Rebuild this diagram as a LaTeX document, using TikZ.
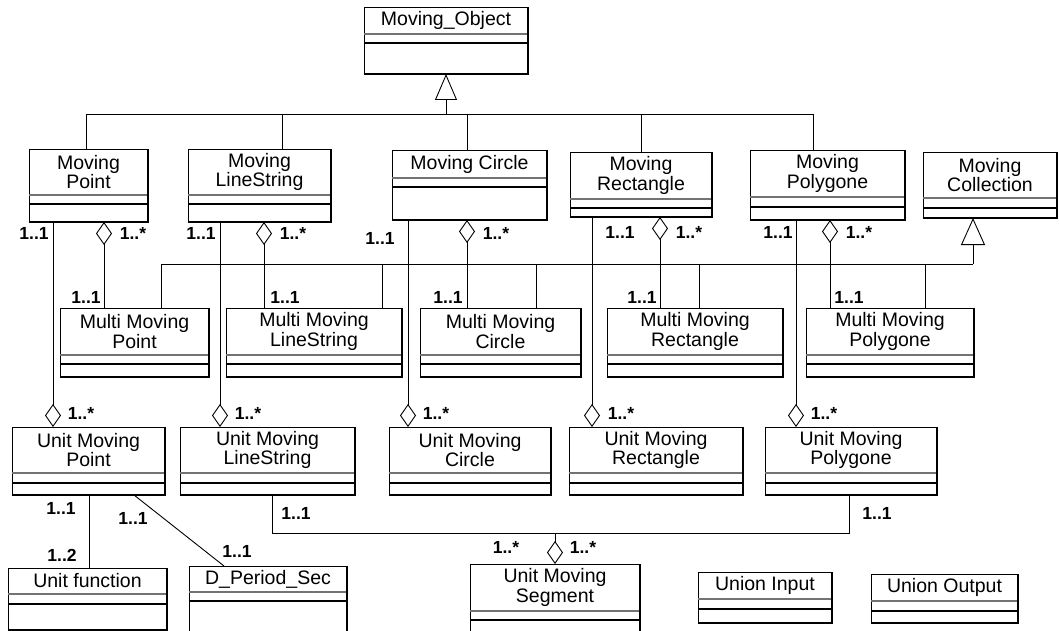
\documentclass[tikz,border=0pt]{standalone}
\usepackage{fontspec}
\setmainfont{Liberation Sans}
\usetikzlibrary{arrows.meta}
\newcommand\umlcls[8]{%
  \node[clsbox, minimum width={#4pt-#2pt}, minimum height={#5pt-#3pt}] (#1) at ({(#2+#4)/2},{(#3+#5)/2}) {};
  \node[clsname] (#1-n) at ({(#2+#4)/2},{(#3+#6)/2}) {#8};
  \draw[sepgray] (#2,#6) -- (#4,#6);
  \draw[sepdark] (#2,#7) -- (#4,#7);
  \draw[edgedark] (#1.north east) -- (#1.south east) -- (#1.south west);
}
\begin{document}
\begin{tikzpicture}[x=1pt,y=-1pt,
  clsbox/.style={draw, line width=0.9pt, rectangle, inner sep=0pt, outer sep=0pt, fill=white},
  clsname/.style={inner sep=0pt, align=center, font=\fontsize{19.5}{19.5}\selectfont},
  sepgray/.style={draw=black!55, line width=1.2pt},
  sepdark/.style={draw=black, line width=1.2pt},
  edgedark/.style={draw=black, line width=1.8pt},
  conn/.style={draw, line width=0.9pt},
  agg/.style={conn, {Diamond[open,length=23pt,width=16pt]}-},
  aggend/.style={conn, -{Diamond[open,length=23pt,width=16pt]}},
  gen/.style={conn, -{Triangle[open,length=26pt,width=22pt]}},
  mult/.style={inner sep=0pt, font=\bfseries\fontsize{17.5}{18}\selectfont}]
\useasboundingbox (0,0) rectangle (1059,631);
\clip (0,0) rectangle (1059,631);

% ---------- classes ----------
\umlcls{MO}{364}{7}{528}{74}{34}{43}{Moving\_Object}
\umlcls{MP}{29}{149}{148}{222}{195}{204}{Moving\\Point}
\umlcls{ML}{188}{149}{331}{222}{195}{204}{Moving\\LineString}
\umlcls{MC}{392}{150}{547}{220}{178}{187}{Moving Circle}
\umlcls{MR}{570}{152}{712}{217}{199}{208}{Moving\\Rectangle}
\umlcls{MPg}{750}{150}{905}{220}{197}{207}{Moving\\Polygone}
\umlcls{MCol}{923}{152}{1057}{218}{198}{208}{Moving\\Collection}

\umlcls{MMP}{60}{308}{209}{377}{355}{364}{Multi Moving\\Point}
\umlcls{MML}{226}{308}{402}{377}{355}{364}{Multi Moving\\LineString}
\umlcls{MMC}{420}{308}{581}{377}{355}{364}{Multi Moving\\Circle}
\umlcls{MMR}{607}{308}{783}{377}{355}{364}{Multi Moving\\Rectangle}
\umlcls{MMPg}{806}{308}{974}{377}{355}{364}{Multi Moving\\Polygone}

\umlcls{UMP}{12}{427}{165}{495}{473}{483}{Unit Moving\\Point}
\umlcls{UML}{180}{427}{355}{495}{473}{483}{Unit Moving\\LineString}
\umlcls{UMC}{389}{427}{551}{495}{473}{483}{Unit Moving\\Circle}
\umlcls{UMR}{569}{427}{743}{495}{473}{483}{Unit Moving\\Rectangle}
\umlcls{UMPg}{765}{427}{937}{495}{473}{483}{Unit Moving\\Polygone}

\umlcls{UF}{8}{568}{167}{630}{594}{604}{Unit function}
\umlcls{DP}{189}{566}{347}{645}{592}{601}{D\_Period\_Sec}
\umlcls{UMS}{470}{564}{640}{645}{611}{620}{Unit Moving\\Segment}
\umlcls{UI}{698}{572}{832}{623}{599}{609}{Union Input}
\umlcls{UO}{871}{574}{1018}{623}{601}{611}{Union Output}

% ---------- generalization to Moving_Object ----------
\coordinate (g1) at (MO.south |- 0,114);
\draw[gen] (g1) -- (MO.south);
\draw[conn] (86,0 |- MP.north) -- (86,114) -- (813,114) -- (813,0 |- MPg.north);
\draw[conn] (282,114) -- (282,0 |- ML.north);
\draw[conn] (467,114) -- (467,0 |- MC.north);
\draw[conn] (641,114) -- (641,0 |- MR.north);

% ---------- generalization to Moving Collection ----------
\coordinate (g2) at (973,264);
\draw[conn, -{Triangle[open,length=27pt,width=24pt]}] (g2) -- (973,0 |- MCol.south);
\draw[conn] (161,0 |- MMP.north) -- (161,264) -- (g2);
\draw[conn] (382,264) -- (382,0 |- MML.north);
\draw[conn] (536,264) -- (536,0 |- MMC.north);
\draw[conn] (699,264) -- (699,0 |- MMR.north);
\draw[conn] (925,264) -- (925,0 |- MMPg.north);

% ---------- aggregation Moving -> Multi ----------
\draw[agg] (104,0 |- MP.south) -- (104,0 |- MMP.north);
\draw[agg] (264,0 |- ML.south) -- (264,0 |- MML.north);
\draw[agg] (467,0 |- MC.south) -- (467,0 |- MMC.north);
\draw[agg] (660,0 |- MR.south) -- (660,0 |- MMR.north);
\draw[agg] (830,0 |- MPg.south) -- (830,0 |- MMPg.north);

% ---------- aggregation Moving -> Unit ----------
\draw[aggend] (53,0 |- MP.south) -- (53,0 |- UMP.north);
\draw[aggend] (220,0 |- ML.south) -- (220,0 |- UML.north);
\draw[aggend] (408,0 |- MC.south) -- (408,0 |- UMC.north);
\draw[aggend] (592,0 |- MR.south) -- (592,0 |- UMR.north);
\draw[aggend] (796,0 |- MPg.south) -- (796,0 |- UMPg.north);

% ---------- Unit -> Segment ----------
\coordinate (j) at (UMS.north |- 0,533);
\draw[conn] (272,0 |- UML.south) -- (272,533) -- (849,533) -- (849,0 |- UMPg.south);
\draw[aggend] (j) -- (UMS.north);

% ---------- Unit Moving Point -> function / period ----------
\draw[conn] (89,0 |- UMP.south) -- (89,0 |- UF.north);
\draw[conn] (134,0 |- UMP.south) -- (224,0 |- DP.north);

% ---------- multiplicities ----------
\node[mult] (m1) at (34,233) {1..1};
\node[mult] (m2) at (133,233) {1..*};
\node[mult] (m3) at (86,297) {1..1};
\node[mult] (m4) at (201,233) {1..1};
\node[mult] (m5) at (293,233) {1..*};
\node[mult] (m6) at (285,297) {1..1};
\node[mult] (m7) at (380,238) {1..1};
\node[mult] (m8) at (496,233) {1..*};
\node[mult] (m9) at (448,297) {1..1};
\node[mult] (m10) at (620,232) {1..1};
\node[mult] (m11) at (689,232) {1..*};
\node[mult] (m12) at (642,297) {1..1};
\node[mult] (m13) at (778,232) {1..1};
\node[mult] (m14) at (859,232) {1..*};
\node[mult] (m15) at (849,297) {1..1};

\node[mult] (u1) at (81,413) {1..*};
\node[mult] (u2) at (248,413) {1..*};
\node[mult] (u3) at (436,413) {1..*};
\node[mult] (u4) at (621,413) {1..*};
\node[mult] (u5) at (824,413) {1..*};

\node[mult] (s1) at (296,513) {1..1};
\node[mult] (s2) at (877,513) {1..1};
\node[mult] (s3) at (506,547) {1..*};
\node[mult] (s4) at (583,547) {1..*};

\node[mult] (f1) at (61,508) {1..1};
\node[mult] (f2) at (62,555) {1..2};
\node[mult] (f3) at (133,518) {1..1};
\node[mult] (f4) at (237,551) {1..1};
\end{tikzpicture}
\end{document}
